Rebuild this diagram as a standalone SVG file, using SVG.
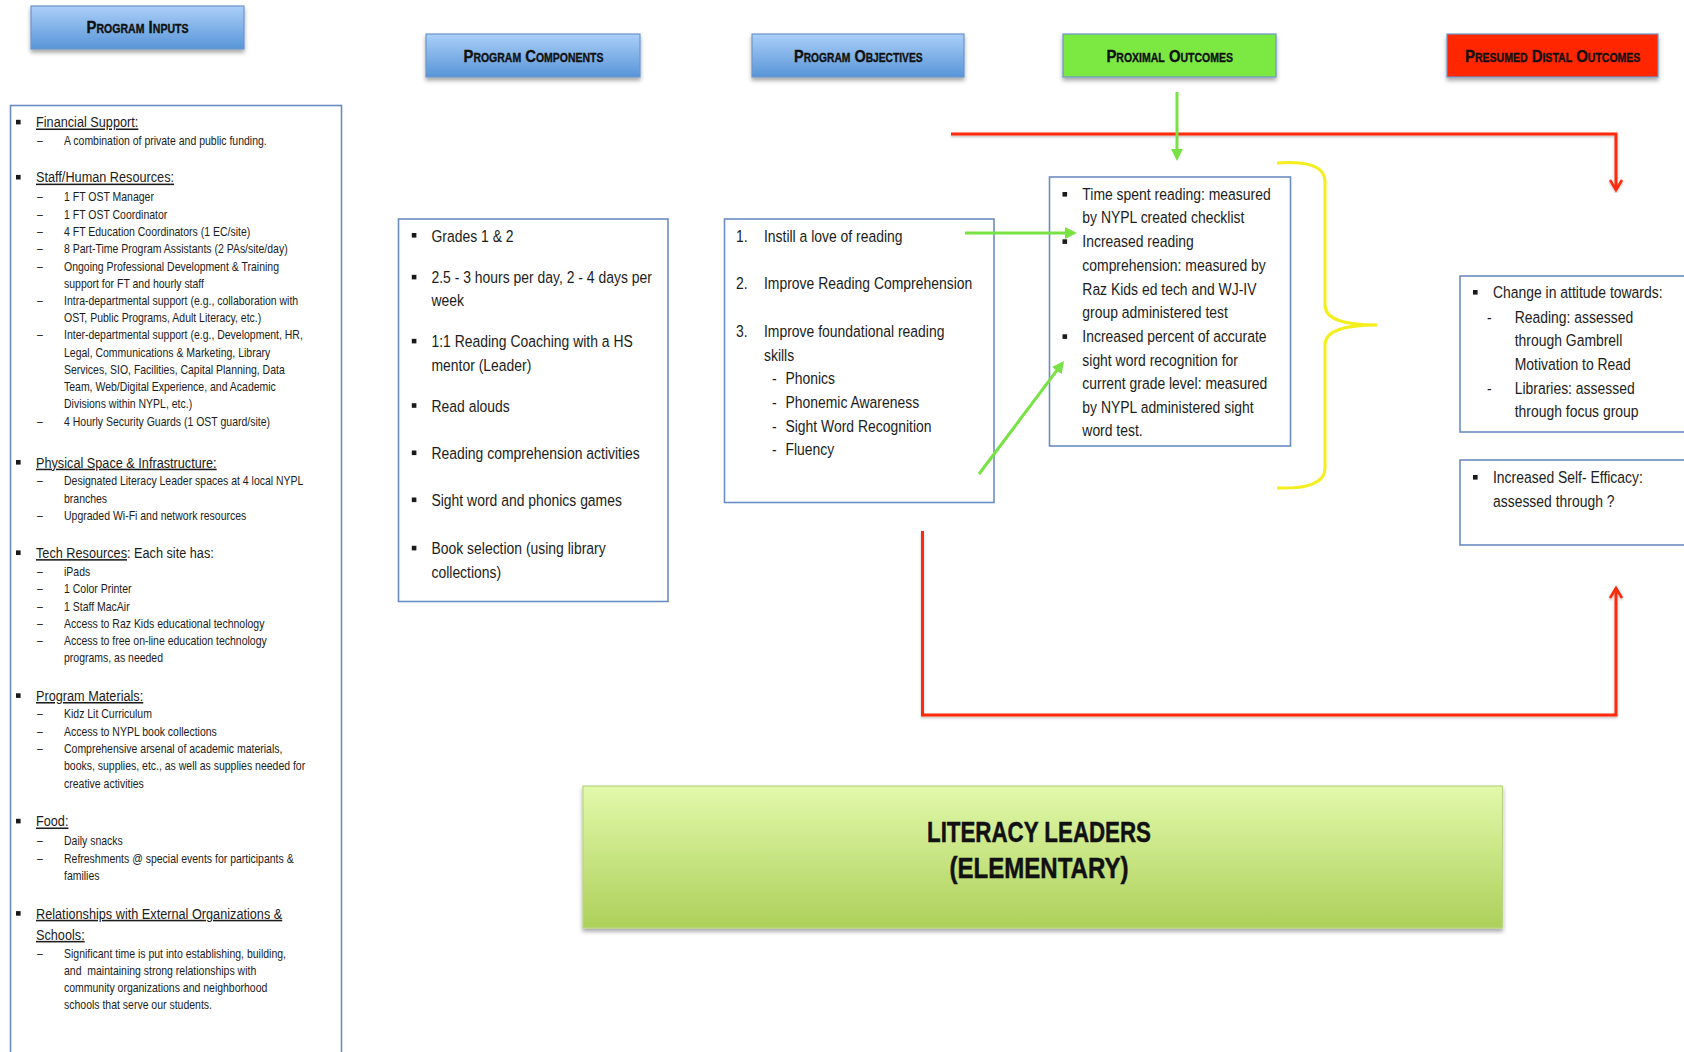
<svg xmlns="http://www.w3.org/2000/svg" width="1684" height="1052" viewBox="0 0 1684 1052">
  <defs>
    <linearGradient id="gBlue" x1="0" y1="0" x2="0" y2="1">
      <stop offset="0" stop-color="#abcff8"/>
      <stop offset="1" stop-color="#5895d8"/>
    </linearGradient>
    <linearGradient id="gLime" x1="0" y1="0" x2="0" y2="1">
      <stop offset="0" stop-color="#e2f9ab"/>
      <stop offset="1" stop-color="#add05a"/>
    </linearGradient>
    <filter id="shadow" x="-5%" y="-20%" width="110%" height="150%">
      <feDropShadow dx="0" dy="3" stdDeviation="2" flood-color="#000" flood-opacity="0.35"/>
    </filter>
    <filter id="lineShadow" x="-5%" y="-5%" width="110%" height="110%">
      <feDropShadow dx="0" dy="1.5" stdDeviation="1" flood-color="#000" flood-opacity="0.25"/>
    </filter>
    <marker id="redHead" markerUnits="userSpaceOnUse" markerWidth="16" markerHeight="16" viewBox="0 0 16 16" refX="13" refY="8" orient="auto">
      <path d="M3,2 L13,8 L3,14" fill="none" stroke="#ff2a0a" stroke-width="2.6" stroke-linejoin="miter"/>
    </marker>
    <marker id="greenHead" markerUnits="userSpaceOnUse" markerWidth="14" markerHeight="14" viewBox="0 0 14 14" refX="8" refY="7" orient="auto">
      <path d="M0,1 L12,7 L0,13 Z" fill="#78e144"/>
    </marker>
    <rect id="sq" width="4.6" height="4.6" fill="#1a1a1a"/>
    <style>
      .hdr { stroke: #6d95cc; stroke-width: 1.2; filter: url(#shadow); }
      .hdrText { font-family: "Liberation Sans", Arial, sans-serif; font-weight: bold; font-variant: small-caps; font-size: 17px; fill: #111; stroke: #111; stroke-width: 0.35; text-anchor: middle; }
      .box { fill: #fff; stroke: #6a8cc2; stroke-width: 1.6; }
      .txt { font-family: "Liberation Sans", Arial, sans-serif; fill: #1c1c1c; }
      .big { font-size: 17px; }
      .head { font-size: 15.5px; }
      .ul { text-decoration: underline; }
      .small { font-size: 12.8px; }
      .title { font-family: "Liberation Sans", Arial, sans-serif; font-weight: bold; font-size: 30px; fill: #111; stroke: #111; stroke-width: 0.5; text-anchor: middle; }
      .red { fill: none; stroke: #ff2a0a; stroke-width: 3; filter: url(#lineShadow); }
      .green { fill: none; stroke: #78e144; stroke-width: 3; }
      .brace { fill: none; stroke: #f4ee1c; stroke-width: 3; }
    </style>
  </defs>

  <rect width="1684" height="1052" fill="#fff"/>

  <!-- Column headers -->
  <g id="hdr-inputs">
    <rect class="hdr" x="31" y="6" width="213" height="43" fill="url(#gBlue)"/>
    <text class="hdrText" x="137.5" y="33.4" textLength="102" lengthAdjust="spacingAndGlyphs">Program Inputs</text>
  </g>
  <g id="hdr-components">
    <rect class="hdr" x="426" y="34" width="214" height="43" fill="url(#gBlue)"/>
    <text class="hdrText" x="533.5" y="61.7" textLength="140" lengthAdjust="spacingAndGlyphs">Program Components</text>
  </g>
  <g id="hdr-objectives">
    <rect class="hdr" x="752" y="34" width="212" height="43" fill="url(#gBlue)"/>
    <text class="hdrText" x="858.3" y="61.7" textLength="128.6" lengthAdjust="spacingAndGlyphs">Program Objectives</text>
  </g>
  <g id="hdr-proximal">
    <rect class="hdr" x="1063" y="34" width="213" height="43" fill="#7be843"/>
    <text class="hdrText" x="1169.7" y="61.7" textLength="126.5" lengthAdjust="spacingAndGlyphs">Proximal Outcomes</text>
  </g>
  <g id="hdr-distal">
    <rect class="hdr" x="1447" y="34" width="211" height="43" fill="#ff2600"/>
    <text class="hdrText" x="1552.7" y="61.7" textLength="175.4" lengthAdjust="spacingAndGlyphs">Presumed Distal Outcomes</text>
  </g>

  <!-- Program inputs list (text set condensed: x values are pre-divided by 0.82) -->
  <g id="inputs">
    <rect class="box" x="10.5" y="105.5" width="331" height="970"/>
    <g>
      <use href="#sq" x="16" y="119.8"/>
      <use href="#sq" x="16" y="174.9"/>
      <use href="#sq" x="16" y="460"/>
      <use href="#sq" x="16" y="550.4"/>
      <use href="#sq" x="16" y="693.3"/>
      <use href="#sq" x="16" y="818.8"/>
      <use href="#sq" x="16" y="911.1"/>
    </g>
    <g class="txt" transform="scale(0.82,1)">
      <text class="head ul" x="43.9" y="127.4">Financial Support:</text>
      <text class="small" x="45.1" y="145.3">–</text>
      <text class="small" x="78.05" y="145.3">A combination of private and public funding.</text>

      <text class="head ul" x="43.9" y="182.5">Staff/Human Resources:</text>
      <text class="small" x="45.1" y="201.4">–</text>
      <text class="small" x="78.05" y="201.4">1 FT OST Manager</text>
      <text class="small" x="45.1" y="219">–</text>
      <text class="small" x="78.05" y="219">1 FT OST Coordinator</text>
      <text class="small" x="45.1" y="236.2">–</text>
      <text class="small" x="78.05" y="236.2">4 FT Education Coordinators (1 EC/site)</text>
      <text class="small" x="45.1" y="253.4">–</text>
      <text class="small" x="78.05" y="253.4">8 Part-Time Program Assistants (2 PAs/site/day)</text>
      <text class="small" x="45.1" y="270.7">–</text>
      <text class="small" x="78.05" y="270.7">Ongoing Professional Development &amp; Training</text>
      <text class="small" x="78.05" y="287.9">support for FT and hourly staff</text>
      <text class="small" x="45.1" y="305.1">–</text>
      <text class="small" x="78.05" y="305.1">Intra-departmental support (e.g., collaboration with</text>
      <text class="small" x="78.05" y="322.3">OST, Public Programs, Adult Literacy, etc.)</text>
      <text class="small" x="45.1" y="339.5">–</text>
      <text class="small" x="78.05" y="339.5">Inter-departmental support (e.g., Development, HR,</text>
      <text class="small" x="78.05" y="356.7">Legal, Communications &amp; Marketing, Library</text>
      <text class="small" x="78.05" y="374">Services, SIO, Facilities, Capital Planning, Data</text>
      <text class="small" x="78.05" y="391.2">Team, Web/Digital Experience, and Academic</text>
      <text class="small" x="78.05" y="408.4">Divisions within NYPL, etc.)</text>
      <text class="small" x="45.1" y="425.6">–</text>
      <text class="small" x="78.05" y="425.6">4 Hourly Security Guards (1 OST guard/site)</text>

      <text class="head ul" x="43.9" y="467.6">Physical Space &amp; Infrastructure:</text>
      <text class="small" x="45.1" y="485.5">–</text>
      <text class="small" x="78.05" y="485.5">Designated Literacy Leader spaces at 4 local NYPL</text>
      <text class="small" x="78.05" y="502.8">branches</text>
      <text class="small" x="45.1" y="520">–</text>
      <text class="small" x="78.05" y="520">Upgraded Wi-Fi and network resources</text>

      <text class="head" x="43.9" y="558"><tspan class="ul">Tech Resources</tspan>: Each site has:</text>
      <text class="small" x="45.1" y="576">–</text>
      <text class="small" x="78.05" y="576">iPads</text>
      <text class="small" x="45.1" y="593.3">–</text>
      <text class="small" x="78.05" y="593.3">1 Color Printer</text>
      <text class="small" x="45.1" y="610.6">–</text>
      <text class="small" x="78.05" y="610.6">1 Staff MacAir</text>
      <text class="small" x="45.1" y="627.9">–</text>
      <text class="small" x="78.05" y="627.9">Access to Raz Kids educational technology</text>
      <text class="small" x="45.1" y="645.2">–</text>
      <text class="small" x="78.05" y="645.2">Access to free on-line education technology</text>
      <text class="small" x="78.05" y="662.5">programs, as needed</text>

      <text class="head ul" x="43.9" y="700.9">Program Materials:</text>
      <text class="small" x="45.1" y="718.5">–</text>
      <text class="small" x="78.05" y="718.5">Kidz Lit Curriculum</text>
      <text class="small" x="45.1" y="735.8">–</text>
      <text class="small" x="78.05" y="735.8">Access to NYPL book collections</text>
      <text class="small" x="45.1" y="753.5">–</text>
      <text class="small" x="78.05" y="753.5">Comprehensive arsenal of academic materials,</text>
      <text class="small" x="78.05" y="770.4">books, supplies, etc., as well as supplies needed for</text>
      <text class="small" x="78.05" y="787.7">creative activities</text>

      <text class="head ul" x="43.9" y="826.4">Food:</text>
      <text class="small" x="45.1" y="845.1">–</text>
      <text class="small" x="78.05" y="845.1">Daily snacks</text>
      <text class="small" x="45.1" y="862.7">–</text>
      <text class="small" x="78.05" y="862.7">Refreshments @ special events for participants &amp;</text>
      <text class="small" x="78.05" y="880.4">families</text>

      <text class="head ul" x="43.9" y="918.7">Relationships with External Organizations &amp;</text>
      <text class="head ul" x="43.9" y="939.8">Schools:</text>
      <text class="small" x="45.1" y="957.7">–</text>
      <text class="small" x="78.05" y="957.7">Significant time is put into establishing, building,</text>
      <text class="small" x="78.05" y="974.7" xml:space="preserve">and  maintaining strong relationships with</text>
      <text class="small" x="78.05" y="992.3">community organizations and neighborhood</text>
      <text class="small" x="78.05" y="1009.3">schools that serve our students.</text>
    </g>
  </g>

  <!-- Program components -->
  <g id="components">
    <rect class="box" x="398.5" y="219" width="269.5" height="382.5"/>
    <use href="#sq" x="411.8" y="233"/>
    <use href="#sq" x="411.8" y="274.8"/>
    <use href="#sq" x="411.8" y="338.8"/>
    <use href="#sq" x="411.8" y="403.2"/>
    <use href="#sq" x="411.8" y="450.5"/>
    <use href="#sq" x="411.8" y="497.5"/>
    <use href="#sq" x="411.8" y="545.8"/>
    <g class="txt big" transform="scale(0.82,1)">
      <text x="526.2" y="241.7">Grades 1 &amp; 2</text>
      <text x="526.2" y="283.3">2.5 - 3 hours per day, 2 - 4 days per</text>
      <text x="526.2" y="306">week</text>
      <text x="526.2" y="347.3">1:1 Reading Coaching with a HS</text>
      <text x="526.2" y="370.7">mentor (Leader)</text>
      <text x="526.2" y="411.7">Read alouds</text>
      <text x="526.2" y="459">Reading comprehension activities</text>
      <text x="526.2" y="506">Sight word and phonics games</text>
      <text x="526.2" y="554.3">Book selection (using library</text>
      <text x="526.2" y="577.7">collections)</text>
    </g>
  </g>

  <!-- Program objectives -->
  <g id="objectives">
    <rect class="box" x="724.5" y="219" width="269.5" height="283.5"/>
    <g class="txt big" transform="scale(0.82,1)">
      <text x="897.6" y="241.7">1.</text>
      <text x="931.7" y="241.7">Instill a love of reading</text>
      <text x="897.6" y="289.3">2.</text>
      <text x="931.7" y="289.3">Improve Reading Comprehension</text>
      <text x="897.6" y="337.3">3.</text>
      <text x="931.7" y="337.3">Improve foundational reading</text>
      <text x="931.7" y="360.7">skills</text>
      <text x="941.5" y="384.3">-</text>
      <text x="957.9" y="384.3">Phonics</text>
      <text x="941.5" y="408">-</text>
      <text x="957.9" y="408">Phonemic Awareness</text>
      <text x="941.5" y="431.7">-</text>
      <text x="957.9" y="431.7">Sight Word Recognition</text>
      <text x="941.5" y="455">-</text>
      <text x="957.9" y="455">Fluency</text>
    </g>
  </g>

  <!-- Proximal outcomes -->
  <g id="proximal">
    <rect class="box" x="1049.5" y="177" width="241" height="269"/>
    <use href="#sq" x="1062.5" y="192"/>
    <use href="#sq" x="1062.5" y="239.3"/>
    <use href="#sq" x="1062.5" y="334.3"/>
    <g class="txt big" transform="scale(0.82,1)">
      <text x="1319.9" y="200">Time spent reading: measured</text>
      <text x="1319.9" y="223.3">by NYPL created checklist</text>
      <text x="1319.9" y="247.3">Increased reading</text>
      <text x="1319.9" y="271.3">comprehension: measured by</text>
      <text x="1319.9" y="295">Raz Kids ed tech and WJ-IV</text>
      <text x="1319.9" y="318.3">group administered test</text>
      <text x="1319.9" y="342.3">Increased percent of accurate</text>
      <text x="1319.9" y="365.7">sight word recognition for</text>
      <text x="1319.9" y="389.3">current grade level: measured</text>
      <text x="1319.9" y="412.7">by NYPL administered sight</text>
      <text x="1319.9" y="436">word test.</text>
    </g>
  </g>

  <!-- Presumed distal outcomes -->
  <g id="distal-attitude">
    <rect class="box" x="1460" y="276" width="240" height="156"/>
    <use href="#sq" x="1473" y="290"/>
    <g class="txt big" transform="scale(0.82,1)">
      <text x="1820.7" y="298.3">Change in attitude towards:</text>
      <text x="1813.4" y="322.7">-</text>
      <text x="1847.2" y="322.7">Reading: assessed</text>
      <text x="1847.2" y="346">through Gambrell</text>
      <text x="1847.2" y="370">Motivation to Read</text>
      <text x="1813.4" y="394">-</text>
      <text x="1847.2" y="394">Libraries: assessed</text>
      <text x="1847.2" y="417.3">through focus group</text>
    </g>
  </g>
  <g id="distal-efficacy">
    <rect class="box" x="1460" y="460" width="240" height="85"/>
    <use href="#sq" x="1473" y="475"/>
    <g class="txt big" transform="scale(0.82,1)">
      <text x="1820.7" y="483.3">Increased Self- Efficacy:</text>
      <text x="1820.7" y="506.7">assessed through ?</text>
    </g>
  </g>

  <!-- Program title -->
  <g id="title">
    <rect x="583" y="786" width="919.5" height="142" fill="url(#gLime)" stroke="#b9d581" stroke-width="1.2" filter="url(#shadow)"/>
    <text class="title" x="1039" y="841.7" textLength="224" lengthAdjust="spacingAndGlyphs">LITERACY LEADERS</text>
    <text class="title" x="1039" y="878" textLength="179" lengthAdjust="spacingAndGlyphs">(ELEMENTARY)</text>
  </g>

  <!-- Connectors -->
  <g id="connectors">
    <line class="red" x1="922.5" y1="134" x2="922.5" y2="205"/>
    <polyline class="red" points="951,134 1616,134 1616,190" marker-end="url(#redHead)"/>
    <line class="red" x1="1545" y1="106" x2="1545" y2="275" marker-end="url(#redHead)"/>
    <polyline class="red" points="922.5,531 922.5,715 1616,715 1616,588" marker-end="url(#redHead)"/>

    <line class="green" x1="1177" y1="92" x2="1177" y2="157" marker-end="url(#greenHead)"/>
    <line class="green" x1="965" y1="233" x2="1073" y2="233" marker-end="url(#greenHead)"/>
    <line class="green" x1="979" y1="474" x2="1061.6" y2="364.2" marker-end="url(#greenHead)"/>

    <path class="brace" d="M1277,163 C1305,161 1325,165 1325,182 L1325,305 C1325,320 1345,325 1377,325 C1345,325 1325,330 1325,345 L1325,468 C1325,484 1305,489 1277,488"/>
  </g>
</svg>
